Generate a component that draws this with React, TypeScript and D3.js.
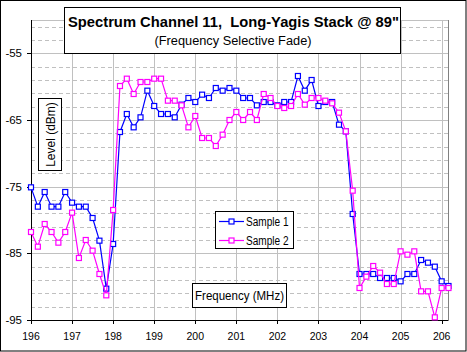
import * as d3 from "d3";

// readings are 1/6 MHz apart, starting at 196 MHz
const freqStart = 196;
const freqStep = 1 / 6;

const sample1 = [
  -75.1, -78.0, -75.8, -78.0, -78.0, -75.8, -77.4, -78.0, -78.0, -79.7,
  -83.1, -90.3, -83.6, -66.8, -64.1, -66.1, -64.6, -60.6, -62.9, -64.1,
  -64.1, -64.6, -62.7, -61.7, -62.3, -61.2, -61.7, -60.2, -60.6, -60.2,
  -60.6, -61.7, -61.7, -62.8, -62.3, -62.3, -62.8, -62.3, -62.3, -58.4,
  -60.6, -59.0, -62.9, -62.3, -62.3, -65.7, -66.7, -79.1, -88.1, -88.1,
  -88.1, -88.7, -88.7, -88.7, -89.2, -88.1, -88.1, -86.0, -86.4, -87.0,
  -89.2, -89.9,
];

const sample2 = [
  -81.8, -84.0, -80.6, -81.8, -83.4, -81.8, -78.9, -85.7, -83.0, -84.6,
  -88.1, -91.3, -78.5, -59.9, -58.8, -61.1, -59.3, -59.3, -58.8, -58.8,
  -62.1, -62.1, -62.8, -66.1, -64.4, -67.7, -67.7, -68.9, -67.2, -65.0,
  -63.8, -65.0, -63.8, -65.0, -61.1, -61.7, -62.9, -63.2, -62.9, -61.1,
  -62.7, -61.7, -61.7, -62.1, -62.5, -63.9, -66.7, -75.6, -90.2, -88.5,
  -86.9, -87.9, -89.6, -89.6, -84.7, -85.2, -84.7, -90.7, -90.7, -94.6,
  -90.2, -90.2,
];

const xTicks = [196, 197, 198, 199, 200, 201, 202, 203, 204, 205, 206];
const yTicks = [-95, -85, -75, -65, -55];
const yMinorTicks = [-93, -91, -89, -87, -83, -81, -79, -77, -73, -71, -69, -67, -63, -61, -59, -57, -53, -51];

const series = [
  { name: "Sample 1", values: sample1, color: "#0000ff" },
  { name: "Sample 2", values: sample2, color: "#ff00ff" },
];

const font = "Arial, 'Liberation Sans', sans-serif";

export default function App() {
  const width = 467;
  const height = 352;
  const left = 31;
  const right = 448.5;
  const top = 20;
  const bottom = 320;

  const lastFreq = freqStart + freqStep * (sample1.length - 1);
  const x = d3.scaleLinear().domain([freqStart, lastFreq]).range([left, right]);
  const y = d3.scaleLinear().domain([-95, -50]).range([bottom, top]);

  const line = d3
    .line<number>()
    .x((_, i) => x(freqStart + i * freqStep))
    .y((d) => y(d));

  return (
    <svg
      width={width}
      height={height}
      style={{ position: "absolute", left: 0, top: 0, background: "#fff" }}
      fontFamily={font}
    >
      <rect x={0.5} y={0.5} width={width - 1.5} height={height - 1.5} fill="#fff" stroke="#000" />

      {/* grid */}
      {yMinorTicks.map((t) => (
        <line key={t} x1={left} x2={right} y1={Math.round(y(t)) + 0.5} y2={Math.round(y(t)) + 0.5}
          stroke="#c0c0c0" strokeDasharray="4,3" />
      ))}
      {yTicks.slice(1).map((t) => (
        <line key={t} x1={left} x2={right} y1={Math.round(y(t)) + 0.5} y2={Math.round(y(t)) + 0.5} stroke="#c0c0c0" />
      ))}
      {xTicks.slice(1).map((t) => (
        <line key={t} x1={Math.round(x(t)) + 0.5} x2={Math.round(x(t)) + 0.5} y1={top} y2={bottom} stroke="#c0c0c0" />
      ))}
      <line x1={left} x2={right} y1={top + 0.5} y2={top + 0.5} stroke="#c0c0c0" />
      <line x1={right} x2={right} y1={top} y2={bottom} stroke="#808080" />

      {/* axes */}
      <line x1={left + 0.5} x2={left + 0.5} y1={top} y2={bottom + 4} stroke="#000" />
      <line x1={left - 4} x2={right} y1={bottom + 0.5} y2={bottom + 0.5} stroke="#000" />
      {yTicks.map((t) => (
        <g key={t}>
          <line x1={left - 4} x2={left} y1={Math.round(y(t)) + 0.5} y2={Math.round(y(t)) + 0.5} stroke="#000" />
          <text x={left - 9} y={y(t) + 4} fontSize={11.5} textAnchor="end" fill="#000">
            {t}
          </text>
        </g>
      ))}
      {xTicks.map((t) => (
        <g key={t}>
          <line x1={Math.round(x(t)) + 0.5} x2={Math.round(x(t)) + 0.5} y1={bottom} y2={bottom + 4} stroke="#000" />
          <text x={x(t)} y={bottom + 19.5} fontSize={11.5} textAnchor="middle" fill="#000"
            textLength={17.5} lengthAdjust="spacingAndGlyphs">
            {t}
          </text>
        </g>
      ))}

      {/* series */}
      {series.map((s) => (
        <g key={s.name}>
          <path d={line(s.values) ?? ""} fill="none" stroke={s.color} strokeWidth={1.2} />
          {s.values.map((v, i) => (
            <rect key={i} x={x(freqStart + i * freqStep) - 2.5} y={y(v) - 2.5} width={5} height={5}
              fill="#fff" stroke={s.color} strokeWidth={1.2} />
          ))}
        </g>
      ))}

      {/* title */}
      <rect x={64.5} y={7.5} width={336} height={46} fill="#fff" stroke="#000" />
      <text x={233.5} y={27} fontSize={14} fontWeight="bold" textAnchor="middle" fill="#000"
        style={{ whiteSpace: "pre" }} textLength={331} lengthAdjust="spacingAndGlyphs">
        {'Spectrum Channel 11,  Long-Yagis Stack @ 89"'}
      </text>
      <text x={233} y={45} fontSize={12.5} textAnchor="middle" fill="#000"
        textLength={157} lengthAdjust="spacingAndGlyphs">
        (Frequency Selective Fade)
      </text>

      {/* y label */}
      <rect x={38.5} y={98.5} width={23} height={72} fill="#fff" stroke="#000" />
      <text transform="translate(54.5,134.5) rotate(-90)" fontSize={12} textAnchor="middle" fill="#000">
        Level (dBm)
      </text>

      {/* x label */}
      <rect x={192.5} y={283.5} width={94} height={24} fill="#fff" stroke="#000" />
      <text x={239.5} y={300} fontSize={12} textAnchor="middle" fill="#000"
        textLength={89} lengthAdjust="spacingAndGlyphs">
        Frequency (MHz)
      </text>

      {/* legend */}
      <rect x={215.5} y={211.5} width={78} height={37} fill="#fff" stroke="#000" />
      {series.map((s, i) => (
        <g key={s.name} transform={`translate(219, ${221 + i * 19})`}>
          <line x1={0} x2={25} y1={0.5} y2={0.5} stroke={s.color} strokeWidth={1.2} />
          <rect x={10} y={-2} width={5} height={5} fill="#fff" stroke={s.color} strokeWidth={1.2} />
          <text x={27} y={4.5} fontSize={12} fill="#000" textLength={42.5} lengthAdjust="spacingAndGlyphs">
            {s.name}
          </text>
        </g>
      ))}
    </svg>
  );
}
